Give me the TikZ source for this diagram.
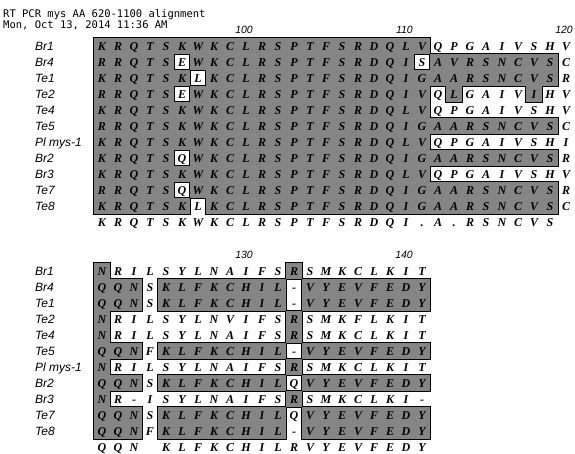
\documentclass[tikz,border=0pt]{standalone}
\usepackage{fontspec}
\setmainfont{Liberation Serif}
\setsansfont{Liberation Sans}
\setmonofont{DejaVu Sans Mono}
\usetikzlibrary{positioning}

% cell size and left edge of the alignment grid
\newcommand{\cellw}{16.0}
\newcommand{\cellh}{16}
\newcommand{\gridx}{94}

% block 1: positions 91-120
\newcommand{\seqA}{%
  Br1/{K,R,Q,T,S,K,W,K,C,L,R,S,P,T,F,S,R,D,Q,L,V,Q,P,G,A,I,V,S,H,V},
  Br4/{R,R,Q,T,S,E,W,K,C,L,R,S,P,T,F,S,R,D,Q,I,S,A,V,R,S,N,C,V,S,C},
  Te1/{K,R,Q,T,S,K,L,K,C,L,R,S,P,T,F,S,R,D,Q,I,G,A,A,R,S,N,C,V,S,R},
  Te2/{R,R,Q,T,S,E,W,K,C,L,R,S,P,T,F,S,R,D,Q,I,V,Q,L,G,A,I,V,I,H,V},
  Te4/{K,R,Q,T,S,K,W,K,C,L,R,S,P,T,F,S,R,D,Q,L,V,Q,P,G,A,I,V,S,H,V},
  Te5/{R,R,Q,T,S,K,W,K,C,L,R,S,P,T,F,S,R,D,Q,I,G,A,A,R,S,N,C,V,S,C},
  Pl mys-1/{K,R,Q,T,S,K,W,K,C,L,R,S,P,T,F,S,R,D,Q,L,V,Q,P,G,A,I,V,S,H,I},
  Br2/{K,R,Q,T,S,Q,W,K,C,L,R,S,P,T,F,S,R,D,Q,I,G,A,A,R,S,N,C,V,S,R},
  Br3/{K,R,Q,T,S,K,W,K,C,L,R,S,P,T,F,S,R,D,Q,L,V,Q,P,G,A,I,V,S,H,V},
  Te7/{R,R,Q,T,S,Q,W,K,C,L,R,S,P,T,F,S,R,D,Q,I,G,A,A,R,S,N,C,V,S,R},
  Te8/{K,R,Q,T,S,K,L,K,C,L,R,S,P,T,F,S,R,D,Q,I,G,A,A,R,S,N,C,V,S,C}}
\newcommand{\consA}{K,R,Q,T,S,K,W,K,C,L,R,S,P,T,F,S,R,D,Q,I,.,A,.,R,S,N,C,V,S}
\newcommand{\shadeA}{%
  1/{1/21}, 2/{1/5,7/20,22/29}, 3/{1/6,8/29}, 4/{1/5,7/21,23/23,28/28},
  5/{1/21}, 6/{1/29}, 7/{1/21}, 8/{1/5,7/29}, 9/{1/21}, 10/{1/5,7/29},
  11/{1/6,8/29}}

% block 2: positions 121-141
\newcommand{\seqB}{%
  Br1/{N,R,I,L,S,Y,L,N,A,I,F,S,R,S,M,K,C,L,K,I,T},
  Br4/{Q,Q,N,S,K,L,F,K,C,H,I,L,-,V,Y,E,V,F,E,D,Y},
  Te1/{Q,Q,N,S,K,L,F,K,C,H,I,L,-,V,Y,E,V,F,E,D,Y},
  Te2/{N,R,I,L,S,Y,L,N,V,I,F,S,R,S,M,K,F,L,K,I,T},
  Te4/{N,R,I,L,S,Y,L,N,A,I,F,S,R,S,M,K,C,L,K,I,T},
  Te5/{Q,Q,N,F,K,L,F,K,C,H,I,L,-,V,Y,E,V,F,E,D,Y},
  Pl mys-1/{N,R,I,L,S,Y,L,N,A,I,F,S,R,S,M,K,C,L,K,I,T},
  Br2/{Q,Q,N,S,K,L,F,K,C,H,I,L,Q,V,Y,E,V,F,E,D,Y},
  Br3/{N,R,-,I,S,Y,L,N,A,I,F,S,R,S,M,K,C,L,K,I,-},
  Te7/{Q,Q,N,S,K,L,F,K,C,H,I,L,Q,V,Y,E,V,F,E,D,Y},
  Te8/{Q,Q,N,F,K,L,F,K,C,H,I,L,-,V,Y,E,V,F,E,D,Y}}
\newcommand{\consB}{Q,Q,N,{},K,L,F,K,C,H,I,L,R,V,Y,E,V,F,E,D,Y}
\newcommand{\shadeB}{%
  1/{1/1,13/13}, 2/{1/3,5/12,14/21}, 3/{1/3,5/12,14/21}, 4/{1/1,13/13},
  5/{1/1,13/13}, 6/{1/3,5/12,14/21}, 7/{1/1,13/13}, 8/{1/3,5/12,14/21},
  9/{1/1,13/13}, 10/{1/3,5/12,14/21}, 11/{1/3,5/12,14/21}}

% #1 top of block, #2 list of gray runs, #3 style
\newcommand{\shaderuns}[3]{%
  \foreach \r/\runs in #2
    \foreach \a/\b in \runs
      \path[#3] ({\gridx+\cellw*(\a-1)},{#1+\cellh*(\r-1)})
        rectangle ({\gridx+\cellw*\b},{#1+\cellh*\r});
}
% #1 block tag, #2 top of block, #3 list of rows
\newcommand{\seqrows}[3]{%
  \foreach \lab/\seq [count=\r] in #3 {
    \node[seqname] (name#1\r) at (35,{#2+\cellh*(\r-0.5)+4.3}) {\lab};
    \foreach \aa [count=\c] in \seq
      \node[res] (#1\r-\c) at ({\gridx+\cellw*(\c-0.5)},{#2+\cellh*(\r-0.5)+4.2}) {\aa};
  }
}

\begin{document}
\begin{tikzpicture}[
    x=1pt, y=-1pt,
    res/.style={font=\fontsize{12}{12}\selectfont\bfseries\itshape, inner sep=0pt, anchor=base},
    seqname/.style={font=\fontsize{12}{12}\selectfont\sffamily\itshape, inner sep=0pt, anchor=base west},
    num/.style={font=\fontsize{10.5}{10.5}\selectfont\sffamily\itshape, inner sep=0pt, anchor=base east},
    title/.style={font=\fontsize{10.5}{10.5}\selectfont\ttfamily, inner sep=0pt, anchor=base west},
    shadeline/.style={draw=black, line width=2.4pt},
    shadefill/.style={fill=black!48}
]
    \useasboundingbox[fill=white] (0,0) rectangle (575,454);

    % Header
    \node[title] (title) at (3,18) {RT PCR mys AA 620-1100 alignment};
    \node[title] (date) at (3,29) {Mon, Oct 13, 2014 11:36 AM};

    % Shaded blocks: outline pass, then fill pass
    \shaderuns{38}{\shadeA}{shadeline}
    \shaderuns{263}{\shadeB}{shadeline}
    \shaderuns{38}{\shadeA}{shadefill}
    \shaderuns{263}{\shadeB}{shadefill}

    % Sequence names and residues
    \seqrows{A}{38}{\seqA}
    \seqrows{B}{263}{\seqB}

    % Consensus rows
    \foreach \aa [count=\c] in \consA
        \node[res] (consA-\c) at ({\gridx+\cellw*(\c-0.5)},{38+\cellh*11.5+4.2}) {\aa};
    \foreach \aa [count=\c] in \consB
        \node[res] (consB-\c) at ({\gridx+\cellw*(\c-0.5)},{263+\cellh*11.5+4.2}) {\aa};

    % Position numbers
    \foreach \c/\n in {10/100, 20/110, 30/120}
        \node[num] (numA\n) at ({\gridx+\cellw*\c-1},33.5) {\n};
    \foreach \c/\n in {10/130, 20/140}
        \node[num] (numB\n) at ({\gridx+\cellw*\c-1},258.5) {\n};
\end{tikzpicture}
\end{document}
